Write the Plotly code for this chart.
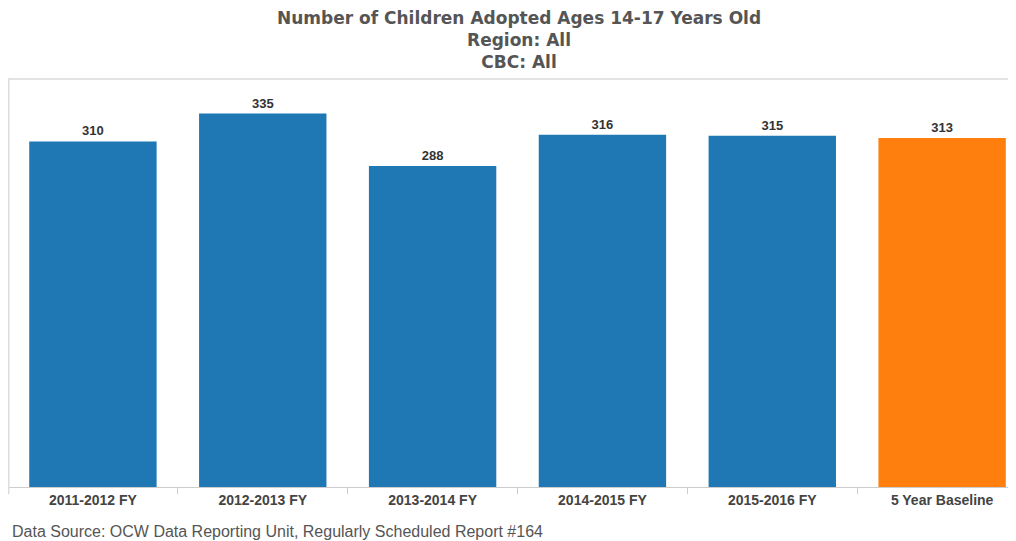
import plotly.graph_objects as go

categories = ["2011-2012 FY", "2012-2013 FY", "2013-2014 FY", "2014-2015 FY", "2015-2016 FY", "5 Year Baseline"]
values = [310, 335, 288, 316, 315, 313]
colors = ["#1f77b4", "#1f77b4", "#1f77b4", "#1f77b4", "#1f77b4", "#ff7f0e"]

fig = go.Figure(go.Bar(
    x=categories, y=values,
    marker=dict(color=colors, line=dict(width=0)),
    text=[str(v) for v in values], textposition="outside",
    texttemplate="<b>%{text}</b>",
    textfont=dict(family="Liberation Sans, Arial", size=13, color="#333333"),
    cliponaxis=False,
    hoverinfo="skip",
))

fig.update_layout(
    width=1008, height=533,
    margin=dict(l=0, r=0, t=71, b=54),
    paper_bgcolor="white", plot_bgcolor="white",
    bargap=0.25,
    showlegend=False,
    xaxis=dict(
        type="category",
        range=[-0.5, 5.435],
        showgrid=False,
        showline=True, linecolor="#cccccc", linewidth=1,
        ticks="outside", tickson="boundaries", ticklen=6, tickcolor="#cccccc",
        tickfont=dict(family="Liberation Sans, Arial", size=14, color="#444444"),
        tickprefix="<b>", ticksuffix="</b>",
        fixedrange=True,
    ),
    yaxis=dict(
        range=[0, 366],
        showgrid=False, zeroline=False,
        showticklabels=False,
        showline=False,
        fixedrange=True,
    ),
    shapes=[
        dict(type="line", xref="paper", yref="paper", x0=0, x1=1, y0=1, y1=1,
             line=dict(color="#e3e3e3", width=2)),
        dict(type="line", xref="paper", yref="paper", x0=0.0005, x1=0.0005, y0=-0.015, y1=1,
             line=dict(color="#dcdcdc", width=2)),
    ],
    annotations=[
        dict(
            text="<b>Number of Children Adopted Ages 14-17 Years Old<br>Region: All<br>CBC: All</b>",
            xref="paper", yref="paper", x=0.507, y=1.178, xanchor="center", yanchor="top",
            showarrow=False, align="center",
            font=dict(family="DejaVu Sans", size=17, color="#555555"),
        ),
        dict(
            text="Data Source: OCW Data Reporting Unit, Regularly Scheduled Report #164",
            xref="paper", yref="paper", x=0.002, y=-0.110, xanchor="left", yanchor="middle",
            showarrow=False,
            font=dict(family="Liberation Sans, Arial", size=16, color="#555555"),
        ),
    ],
)

fig.write_html("out.html")
